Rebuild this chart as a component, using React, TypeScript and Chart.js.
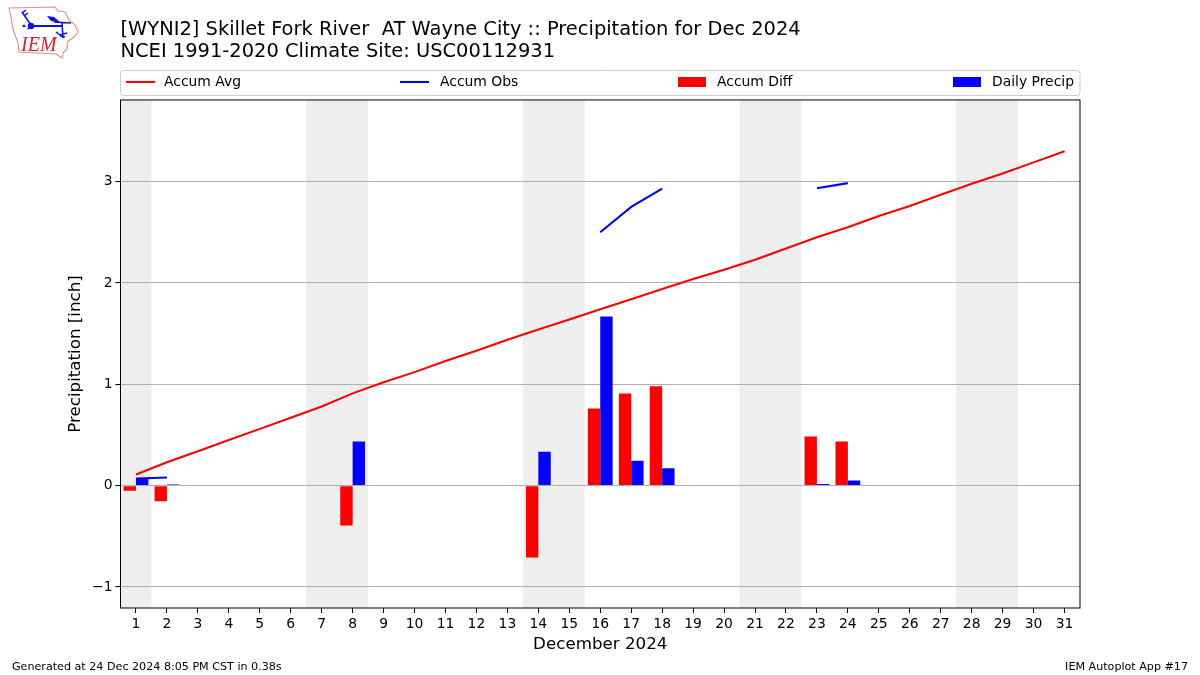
import React, { useEffect, useRef } from "react";
import { Chart, registerables } from "chart.js";

Chart.register(...registerables);

const days = [1,2,3,4,5,6,7,8,9,10,11,12,13,14,15,16,17,18,19,20,21,22,23,24,25,26,27,28,29,30,31];
const accumAvg = [0.11,0.23,0.34,0.45,0.56,0.67,0.78,0.91,1.02,1.12,1.23,1.33,1.44,1.54,1.64,1.74,1.84,1.94,2.04,2.13,2.23,2.34,2.45,2.55,2.66,2.76,2.87,2.98,3.08,3.19,3.30];
const accumObs = [0.07,0.08,null,null,null,null,null,null,null,null,null,null,null,null,null,2.50,2.75,2.93,null,null,null,null,2.935,2.985,null,null,null,null,null,null,null];
const accumDiff = [-0.05,-0.155,null,null,null,null,null,-0.395,null,null,null,null,null,-0.71,null,0.76,0.91,0.98,null,null,null,null,0.485,0.435,null,null,null,null,null,null,null];
const dailyPrecip = [0.07,0.01,null,null,null,null,null,0.435,null,null,null,null,null,0.335,null,1.67,0.245,0.17,null,null,null,null,0.015,0.05,null,null,null,null,null,null,null];
const yTicks = [-1,0,1,2,3];
const weekendSpans = [[0.5,1.5],[6.5,8.5],[13.5,15.5],[20.5,22.5],[27.5,29.5]];
const titleLines = ["[WYNI2] Skillet Fork River  AT Wayne City :: Precipitation for Dec 2024","NCEI 1991-2020 Climate Site: USC00112931"];
const footerLeft = "Generated at 24 Dec 2024 8:05 PM CST in 0.38s";
const footerRight = "IEM Autoplot App #17";
const xLabel = "December 2024";
const yLabel = "Precipitation [inch]";

const FONT = "'DejaVu Sans'";

const spans = {
  id: "spans",
  beforeDraw(chart: any) {
    const { ctx, chartArea: a, scales } = chart;
    ctx.save();
    ctx.beginPath();
    ctx.rect(a.left, a.top, a.right - a.left, a.bottom - a.top);
    ctx.clip();
    ctx.fillStyle = "#eeeeee";
    for (const [s, e] of weekendSpans) {
      const x0 = scales.x.getPixelForValue(s);
      const x1 = scales.x.getPixelForValue(e);
      ctx.fillRect(x0, a.top, x1 - x0, a.bottom - a.top);
    }
    ctx.restore();
  },
};

const frame = {
  id: "frame",
  afterDraw(chart: any) {
    const { ctx, chartArea: a } = chart;
    ctx.save();
    ctx.strokeStyle = "#000";
    ctx.lineWidth = 1;
    ctx.strokeRect(a.left, a.top, a.right - a.left, a.bottom - a.top);

    // legend, four columns expanded across the axes width
    const top = 70, h = 25;
    ctx.strokeStyle = "#cccccc";
    ctx.beginPath();
    ctx.roundRect(a.left, top + 0.5, a.right - a.left, h, 3);
    ctx.stroke();
    ctx.font = `13.9px ${FONT}`;
    ctx.textBaseline = "middle";
    ctx.textAlign = "left";
    const handleStarts = [126, 400, 678, 953];
    const labelStarts = [164, 440, 717, 992];
    chart.data.datasets.forEach((ds: any) => {
      const x = handleStarts[ds.legendIndex];
      const y = top + h / 2 - 0.5;
      if (ds.type === "line") {
        ctx.strokeStyle = ds.borderColor;
        ctx.lineWidth = 2.08;
        ctx.beginPath();
        ctx.moveTo(x, y);
        ctx.lineTo(x + 29, y);
        ctx.stroke();
      } else {
        ctx.fillStyle = ds.backgroundColor;
        ctx.fillRect(x, y - 5, 28, 10);
      }
      ctx.fillStyle = "#000";
      ctx.fillText(ds.label, labelStarts[ds.legendIndex], y);
    });

    // footer
    ctx.font = `11.13px ${FONT}`;
    ctx.fillStyle = "#000";
    ctx.textBaseline = "alphabetic";
    ctx.textAlign = "left";
    ctx.fillText(footerLeft, 12, 670);
    ctx.textAlign = "right";
    ctx.fillText(footerRight, 1188, 670);
    ctx.restore();
  },
};

function Logo() {
  return (
    <svg width={80} height={60} style={{ position: "absolute", left: 5, top: 3 }} viewBox="0 0 80 60">
      <path d="M4 5 L50 4 L53 8 L60 9 L64 17 L70 22 L73 29 L68 35 L63 38 L62 46 L58 50 L57 55 L51 51 L14 49 L13 40 L8 26 L6 14 Z" fill="none" stroke="#e58a8a" strokeWidth="1.1" />
      <g stroke="#1010e0" strokeWidth="1.5" fill="none">
        <path d="M26 23 L57 23" strokeWidth="2" />
        <path d="M17 9 L26 22" />
        <path d="M17 10 L21 7 M19 13 L23 10" />
        <path d="M49 19 L66 20 M57 20 L58 35" />
        <path d="M51 29 L55 32 L62 30 M55 33 L60 34" />
      </g>
      <path d="M42 13 L49 14 L56 20 L46 18 Z" fill="#1010e0" />
      <circle cx="26" cy="23" r="3.2" fill="#1010e0" />
      <path d="M19 21 L21 24 L17 24 Z M22 25 L24 25 L23 27 Z" fill="#1010e0" />
      <text x="16" y="47.5" fontFamily="'Liberation Serif'" fontStyle="italic" fontSize="20" fill="#d8232a">IEM</text>
    </svg>
  );
}

export default function App() {
  const ref = useRef<HTMLCanvasElement>(null);
  useEffect(() => {
    document.body.style.margin = "0";
    const chart = new Chart(ref.current as HTMLCanvasElement, {
      type: "bar",
      data: {
        labels: days,
        datasets: [
          { type: "line", label: "Accum Avg", data: days.map((d, i) => ({ x: d, y: accumAvg[i] })), borderColor: "#ff0000", borderWidth: 2.08, pointRadius: 0, tension: 0, order: 0, legendIndex: 0 } as any,
          { type: "line", label: "Accum Obs", data: days.map((d, i) => ({ x: d, y: accumObs[i] })), borderColor: "#0000ff", borderWidth: 2.08, pointRadius: 0, tension: 0, spanGaps: false, order: 0, legendIndex: 1 } as any,
          { type: "bar", label: "Accum Diff", data: days.map((d, i) => ({ x: d, y: accumDiff[i] })), backgroundColor: "#ff0000", categoryPercentage: 0.8, barPercentage: 1, order: 1, legendIndex: 2 } as any,
          { type: "bar", label: "Daily Precip", data: days.map((d, i) => ({ x: d, y: dailyPrecip[i] })), backgroundColor: "#0000ff", categoryPercentage: 0.8, barPercentage: 1, order: 1, legendIndex: 3 } as any,
        ],
      },
      options: {
        animation: false,
        responsive: false,
        layout: { padding: { right: 120 } },
        plugins: {
          legend: { display: false },
          tooltip: { enabled: false },
          title: {
            display: true,
            text: titleLines,
            align: "start",
            fullSize: false,
            color: "#000",
            font: { family: FONT, size: 19.45, weight: "normal", lineHeight: 1.13 },
            padding: { top: 18.7, bottom: 37.3 },
          },
        },
        scales: {
          x: {
            type: "linear",
            offset: false,
            min: 0.5,
            max: 31.5,
            afterBuildTicks: (s: any) => { s.ticks = days.map((v) => ({ value: v })); },
            afterFit: (s: any) => { s.height = 67; },
            grid: { offset: false, drawOnChartArea: false, drawTicks: true, tickLength: 5, tickColor: "#000" },
            border: { display: false },
            ticks: { color: "#000", autoSkip: false, maxRotation: 0, padding: 3, font: { family: FONT, size: 13.9 } },
            title: { display: true, text: xLabel, color: "#000", padding: { top: 2, bottom: 20 }, font: { family: FONT, size: 16.7 } },
          },
          y: {
            min: -1.208,
            max: 3.806,
            afterBuildTicks: (s: any) => { s.ticks = yTicks.map((v) => ({ value: v })); },
            afterFit: (s: any) => { s.width = 120.5; },
            grid: { color: "#b0b0b0", lineWidth: 1.1, tickColor: "#000", tickLength: 5, drawTicks: true },
            border: { display: false },
            ticks: { color: "#000", padding: 3, font: { family: FONT, size: 13.9 }, callback: (v: any) => (v < 0 ? "\u2212" + Math.abs(v) : String(v)) },
            title: { display: true, text: yLabel, color: "#000", padding: { top: 66, bottom: 0 }, font: { family: FONT, size: 16.7 } },
          },
        },
      },
      plugins: [spans, frame],
    } as any);
    return () => chart.destroy();
  }, []);
  return (
    <div style={{ position: "relative", width: 1200, height: 675, background: "#fff" }}>
      <canvas ref={ref} width={1200} height={675} style={{ display: "block" }} />
      <Logo />
    </div>
  );
}
